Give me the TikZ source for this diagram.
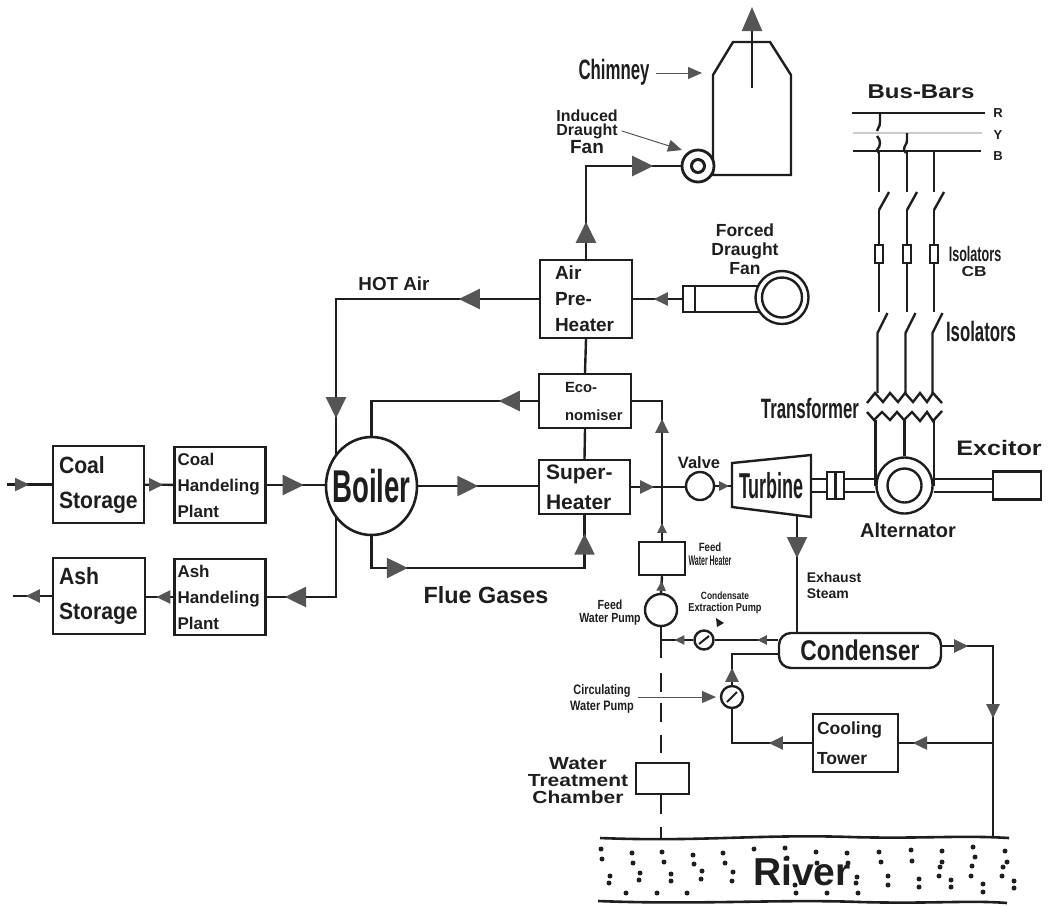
\documentclass[tikz,border=0pt]{standalone}
\usepackage{fontspec}
\setmainfont{Liberation Sans}
\newfontfamily\narrowfont[FakeStretch=0.6]{Liberation Sans}
\newfontfamily\slimfont[FakeStretch=0.5]{Liberation Sans}
\newfontfamily\midfont[FakeStretch=0.8]{Liberation Sans}
\newfontfamily\storefont[FakeStretch=0.9]{Liberation Sans}
\newfontfamily\widefont[FakeStretch=1.2]{Liberation Sans}
\usetikzlibrary{arrows.meta,decorations.markings,shapes.geometric}
\definecolor{ink}{HTML}{1E1E1E}
\definecolor{tipgray}{HTML}{555555}
\newcommand{\fsz}[2]{\fontsize{#1}{#2}\selectfont}

\begin{document}
\begin{tikzpicture}[
  x=1pt,y=-1pt,
  wire/.style={draw=ink,line width=2.4pt},
  plantbox/.style={
    draw=ink,line width=2.4pt,fill=white,inner ysep=0pt,align=left,text=ink
  },
  emptybox/.style={
    draw=ink,line width=2.4pt,fill=white,inner sep=0pt
  },
  ringnode/.style={
    circle,draw=ink,line width=2.4pt,fill=white,inner sep=0pt
  },
  lbl/.style={inner sep=0pt,align=center,text=ink},
  fuse/.style={
    draw=ink,line width=1.2pt,fill=white,minimum width=8pt,minimum height=18pt,inner sep=0pt
  },
  bigtip/.style={postaction={decorate,decoration={markings,
    mark=at position #1 with {\arrow{Triangle[length=21pt,width=20pt,color=tipgray]}}}}},
  midtip/.style={postaction={decorate,decoration={markings,
    mark=at position #1 with {\arrow{Triangle[length=14pt,width=13pt,color=tipgray]}}}}},
  smalltip/.style={postaction={decorate,decoration={markings,
    mark=at position #1 with {\arrow{Triangle[length=10pt,width=9pt,color=tipgray]}}}}},
  callout/.style={draw=tipgray,line width=1pt,-{Triangle[length=14pt,width=12pt,color=tipgray]}}
]
\useasboundingbox (0,0) rectangle (1048,906);

% ---- coal and ash side ----
\node[plantbox,text width=79pt,inner xsep=6pt,minimum height=77pt,font=\storefont\bfseries\fsz{23.5}{35}]
  (coalstore) at (98.5,484.5) {Coal\\Storage};
\node[plantbox,text width=85pt,inner xsep=3pt,minimum height=76pt,font=\bfseries\fsz{17}{26}]
  (coalplant) at (220,485) {Coal\\Handeling\\Plant};
\node[plantbox,text width=80pt,inner xsep=6pt,minimum height=76pt,font=\storefont\bfseries\fsz{23.5}{35}]
  (ashstore) at (99,596) {Ash\\Storage};
\node[plantbox,text width=85pt,inner xsep=3pt,minimum height=76pt,font=\bfseries\fsz{17}{26}]
  (ashplant) at (220,597) {Ash\\Handeling\\Plant};

\node[ellipse,draw=ink,line width=2.6pt,inner sep=0pt,minimum width=91pt,minimum height=98pt]
  (boiler) at (371.5,486) {};
\node[lbl,font=\narrowfont\bfseries\fsz{46}{46}] (boilerlbl) at (371.5,486) {Boiler};

% ---- gas path blocks ----
\node[plantbox,text width=62pt,inner xsep=15pt,minimum height=78pt,font=\bfseries\fsz{19}{26}]
  (preheater) at (586,299) {Air\\Pre-\\Heater};
\node[plantbox,text width=88pt,inner xsep=2pt,minimum height=54pt,font=\bfseries\fsz{14.8}{28}]
  (economiser) at (585,401) {\hspace*{24pt}Eco-\\\hspace*{24pt}nomiser};
\node[plantbox,text width=77pt,inner xsep=7pt,minimum height=54pt,font=\bfseries\fsz{21}{30}]
  (superheater) at (584.5,487) {Super-\\Heater};

\node[lbl,font=\bfseries\fsz{18.8}{20}] (hotair) at (394,284) {HOT Air};
\node[lbl,font=\bfseries\fsz{23.4}{24}] (fluegases) at (486,595) {Flue Gases};

% ---- chimney and fans ----
\draw[wire,fill=white] (713,175) -- (713,75) -- (733,42) -- (770,42) -- (791,75) -- (791,175) -- cycle;
\node[ringnode,line width=2.8pt,minimum size=32pt] (idfan) at (698,166) {};
\node[ringnode,line width=3pt,minimum size=13pt] (idcore) at (698,166) {};

\coordinate (chimneystart) at (752,88);
\coordinate (chimneytop) at (752,7);
\draw[wire,-{Triangle[length=24pt,width=20pt,color=tipgray]}] (chimneystart) -- (chimneytop);

\node[lbl,font=\narrowfont\bfseries\fsz{28}{28}] (chimneylbl) at (614,72) {Chimney};
\coordinate (chimneytgt) at (702,73);
\draw[callout] (chimneylbl.east) ++(6,1) -- (chimneytgt);

\node[lbl,font=\bfseries\fsz{16}{14}] (idlbl) at (587,132) {Induced\\Draught\\[1pt]{\fsz{19}{14}Fan}};
\coordinate (idstart) at (622,131);
\coordinate (idtgt) at (682,150);
\draw[callout] (idstart) -- (idtgt);

\node[draw=ink,line width=2.4pt,minimum width=80pt,minimum height=26pt,inner sep=0pt]
  (fdbody) at (723,299) {};
\coordinate (fdbar) at (695,299);
\draw[wire] (fdbar |- fdbody.north) -- (fdbar |- fdbody.south);
\node[ringnode,minimum size=53pt] (fdring) at (782,297.5) {};
\node[ringnode,minimum size=40pt] (fdcore) at (782,297.5) {};
\node[lbl,font=\bfseries\fsz{17.5}{19}] (fdlbl) at (745,249) {Forced\\Draught\\Fan};

% ---- feed water line ----
\node[emptybox,minimum width=46pt,minimum height=33pt] (feedheater) at (662,558.5) {};
\node[ringnode,minimum size=32pt] (feedpump) at (661,610) {};
\node[ringnode,minimum size=19pt] (extractpump) at (704,640) {};
\node[ringnode,minimum size=22pt] (circpump) at (732,697) {};
\node[emptybox,minimum width=53pt,minimum height=31pt] (wtchamber) at (662.5,778.5) {};
\draw[wire,line width=2pt] ([xshift=-5pt,yshift=-4pt]extractpump.center) -- ([xshift=5pt,yshift=4pt]extractpump.center);
\draw[wire,line width=2pt] ([xshift=-5pt,yshift=-5pt]circpump.center) -- ([xshift=5pt,yshift=5pt]circpump.center);

\node[lbl,font=\midfont\bfseries\fsz{12}{14}] (heaterlbl) at (710,554)
  {Feed\\{\slimfont\bfseries\fsz{14}{14}Water Heater}};
\node[lbl,font=\midfont\bfseries\fsz{13.2}{13}] (pumplbl) at (610,613) {Feed\\Water Pump};
\node[lbl,font=\midfont\bfseries\fsz{11.5}{12}] (extractlbl) at (725,603) {{\fsz{10.5}{12}Condensate}\\Extraction Pump};
\fill[ink] (716,618) -- (724,623) -- (717,627) -- cycle;
\node[lbl,font=\midfont\bfseries\fsz{13.7}{16}] (circlbl) at (602,699) {Circulating\\Water Pump};
\coordinate (circstart) at (638,697);
\coordinate (circtgt) at (716,697);
\draw[callout] (circstart) -- (circtgt);
\node[lbl,font=\widefont\bfseries\fsz{17.5}{17}] (wtlbl) at (578,781) {Water\\Treatment\\Chamber};

% ---- steam cycle ----
\draw[wire,fill=white] (732,463) -- (811,455) -- (811,517) -- (732,507) -- cycle;
\node[lbl,font=\slimfont\bfseries\fsz{36}{36},minimum width=79pt,minimum height=50pt] (turbine) at (771.5,485.5) {Turbine};
\node[ringnode,minimum size=28pt] (valve) at (700,486) {};
\node[lbl,font=\bfseries\fsz{16.5}{17}] (valvelbl) at (699,463) {Valve};
\node[draw=ink,line width=2.4pt,rounded corners=12pt,fill=white,inner sep=0pt,minimum width=162pt,minimum height=35pt,
  text=ink,font=\midfont\bfseries\fsz{28.5}{29}] (condenser) at (860,650.5) {Condenser};
\node[lbl,font=\bfseries\fsz{14}{16},align=left] (exhaustlbl) at (834,585) {Exhaust\\Steam};
\node[plantbox,text width=77pt,inner xsep=4pt,minimum height=58pt,font=\bfseries\fsz{17.5}{30}]
  (coolingtower) at (855.5,743) {Cooling\\Tower};

% ---- alternator and excitor ----
\node[ringnode,minimum size=56pt] (alternator) at (904.5,485.5) {};
\node[ringnode,minimum size=34pt] (altcore) at (904.5,485.5) {};
\node[emptybox,minimum width=48pt,minimum height=28pt] (excitor) at (1017,485.5) {};
\node[lbl,font=\bfseries\fsz{20}{20}] (altlbl) at (908,530) {Alternator};
\node[lbl,font=\widefont\bfseries\fsz{21}{21}] (excitorlbl) at (999,448) {Excitor};
\node[lbl,font=\narrowfont\bfseries\fsz{28}{28}] (trafolbl) at (810,408) {Transformer};

\draw[wire] ([yshift=6.5pt]turbine.east) -- ([yshift=6.5pt]alternator.west);
\draw[wire] ([yshift=-6.5pt]turbine.east) -- ([yshift=-6.5pt]alternator.west);
\draw[wire] ([yshift=6.5pt]alternator.east) -- ([yshift=6.5pt]excitor.west);
\draw[wire] ([yshift=-6.5pt]alternator.east) -- ([yshift=-6.5pt]excitor.west);
\node[emptybox,minimum width=17pt,minimum height=27pt] (coupling) at (835.5,485.5) {};
\draw[wire] (coupling.north) -- (coupling.south);

% ---- bus bars and switchgear ----
\node[lbl,font=\widefont\bfseries\fsz{20}{20}] (buslbl) at (921,92) {Bus-Bars};
\node[lbl,font=\bfseries\fsz{13}{13}] (busR) at (998,113) {R};
\node[lbl,font=\bfseries\fsz{13}{13}] (busY) at (998,135) {Y};
\node[lbl,font=\bfseries\fsz{13}{13}] (busB) at (998,156) {B};
\coordinate (barR) at (852,113);
\coordinate (barY) at (853,133);
\coordinate (barB) at (853,151);
\draw[wire] (barR) -- ++(133,0);
\draw[draw=black!20,line width=1.6pt] (barY) -- ++(129,0);
\draw[wire] (barB) -- ++(128,0);

\draw[wire] (880,113) -- (880,122) .. controls (880,128) and (877,128) .. (877,131);
\draw[wire] (877,136) .. controls (881,140) and (881,146) .. (877,150) -- (879,153);
\draw[wire] (907,133) -- (907,140) .. controls (907,145) and (904,145) .. (904,150) -- (906,153);

\foreach \x/\p in {879/a,907/b,934/c} {
  \node[fuse] (fuse\p) at (\x,254) {};
  \draw[wire] (\x,151) -- (\x,192);
  \draw[wire] (\x,210) -- (\x+10,192);
  \draw[wire] (\x,210) -- (fuse\p.north);
  \draw[wire] (fuse\p.south) -- (\x,312);
  \draw[wire] (\x-1.5,393) -- (\x-1.5,333) -- (\x+8.5,313);
}

\node[lbl,font=\narrowfont\bfseries\fsz{21}{21}] (isolbl) at (975,254) {Isolators};
\node[lbl,font=\widefont\bfseries\fsz{14.4}{14}] (cblbl) at (974,272) {CB};
\node[lbl,font=\narrowfont\bfseries\fsz{28}{28}] (isolblb) at (981,331) {Isolators};

\draw[wire] (867,403) -- (875,393) -- (883,402) -- (890,393) -- (898,402) -- (905,393)
  -- (913,402) -- (920,393) -- (927,402) -- (933,393) -- (942,403);
\draw[wire] (867,412) -- (874,420) -- (882,412) -- (890,420) -- (897,412) -- (904,420)
  -- (912,412) -- (920,421) -- (927,412) -- (933,421) -- (942,411);
\draw[wire] (alternator.north |- 0,420) -- (alternator.north);
\draw[wire] (alternator.west |- 0,420) -- (alternator.west);
\draw[wire] (alternator.east |- 0,420) -- (alternator.east);

% ---- river ----
\draw[draw=ink,line width=2.6pt] (600,838) .. controls (700,842) and (760,834) .. (850,837) .. controls (920,839) and (960,835) .. (1009,838);
\draw[draw=ink,line width=2.6pt] (598,901) .. controls (700,905) and (780,899) .. (860,902) .. controls (930,904) and (970,900) .. (1007,903);
\foreach \x/\y in {601/849,602/859,632/853,633/863,662/852,664/862,693/855,694/864,723/853,725/863,
    754/849,785/848,787/858,816/852,817/863,847/853,848/863,879/852,881/862,911/850,912/861,
    942/851,942/862,940/867,973/847,975/857,972/866,1005/851,1007/862,1003/867,
    610/876,609/883,640/873,639/880,671/874,671/881,702/871,701/879,733/872,732/881,
    857/877,856/883,888/876,888/885,919/879,919/887,939/876,951/880,951/887,
    971/876,983/884,983/892,1002/876,1014/881,1014/888,
    626/893,657/893,687/893,796/893,827/893,858/893,795/885} {
  \fill[ink] (\x,\y) circle (2.5pt);
}
\node[lbl,font=\bfseries\fsz{39}{39}] (river) at (802,872) {River};

% ---- connectors with the flow direction marked on the line ----
\coordinate (coalin) at (7,484.5);
\coordinate (ashout) at (13,596);
\draw[wire,midtip=22pt] (coalin) -- (coalstore);
\draw[wire,midtip=18pt] (coalstore) -- (coalplant);
\draw[wire,bigtip=37pt] (coalplant.east) -- (coalplant.east -| boiler.west);
\draw[wire,midtip=17pt] (ashplant.west) -- (ashplant.west -| ashstore.east);
\draw[wire,midtip=26pt] (ashstore.west) -- (ashout);

\coordinate (hotcorner) at (336,299);
\coordinate (hotend) at (336,455);
\coordinate (ashstart) at (336,517);
\draw[wire,bigtip=80pt,bigtip=322pt] (preheater.west) -- (hotcorner) -- (hotend);
\draw[wire,bigtip=131pt] (ashstart) |- (ashplant.east);

\draw[wire,bigtip=60pt] (boiler.east) -- (boiler.east -| superheater.west);
\draw[wire,bigtip=39pt] (economiser.west) -| (boiler.north);
\coordinate (fluecorner) at (584.5,568);
\draw[wire,bigtip=68pt,bigtip=279pt] (boiler.south) |- (fluecorner) -- (superheater.south);

\draw[wire,midtip=30pt] (superheater.north) -- (economiser.south);
\draw[wire,midtip=35pt] (economiser.north) -- (preheater.south);
\draw[wire,bigtip=37pt,bigtip=160pt] (preheater.north) |- (idfan.west);
\draw[wire,midtip=28pt] (fdbody.west) -- (fdbody.west -| preheater.east);

\draw[wire,midtip=23pt] (superheater.east) -- (superheater.east -| valve.west);
\draw[wire,smalltip=14pt] (valve.east) -- (valve.east -| turbine.west);
\coordinate (exhauststart) at (797,516);
\draw[wire,bigtip=42pt] (exhauststart) -- (exhauststart |- condenser.north);

\draw[wire,smalltip=12pt] (feedpump.north) -- (feedheater.south);
\draw[wire,smalltip=18pt,midtip=122pt] (feedheater.north) |- (economiser.east);
\draw[wire,smalltip=21pt] (condenser.west |- extractpump) -- (extractpump);
\draw[wire,smalltip=19pt] (extractpump) -- (extractpump -| feedpump);
\coordinate (riverdrop) at (661,838);
\draw[wire,dash pattern=on 31pt off 15pt on 19pt off 11pt on 19pt off 13pt on 18pt off 30pt] (feedpump.south) -- (feedpump.south |- wtchamber.north);
\draw[wire,dash pattern=on 19pt off 13pt on 12pt off 5pt] (wtchamber.south -| riverdrop) -- (riverdrop);

\coordinate (riverturn) at (993,646);
\coordinate (riverreturn) at (993,838);
\coordinate (towertap) at (993,743);
\coordinate (condin) at (779,654);
\draw[wire,midtip=26pt,midtip=123pt] (riverturn -| condenser.east) -- (riverturn) -- (riverreturn);
\draw[wire,midtip=80pt] (towertap) -- (coolingtower.east);
\draw[wire,midtip=43pt] (coolingtower.west) -| (circpump.south);
\draw[wire,midtip=17pt] (circpump.north) |- (condin);
\end{tikzpicture}
\end{document}
